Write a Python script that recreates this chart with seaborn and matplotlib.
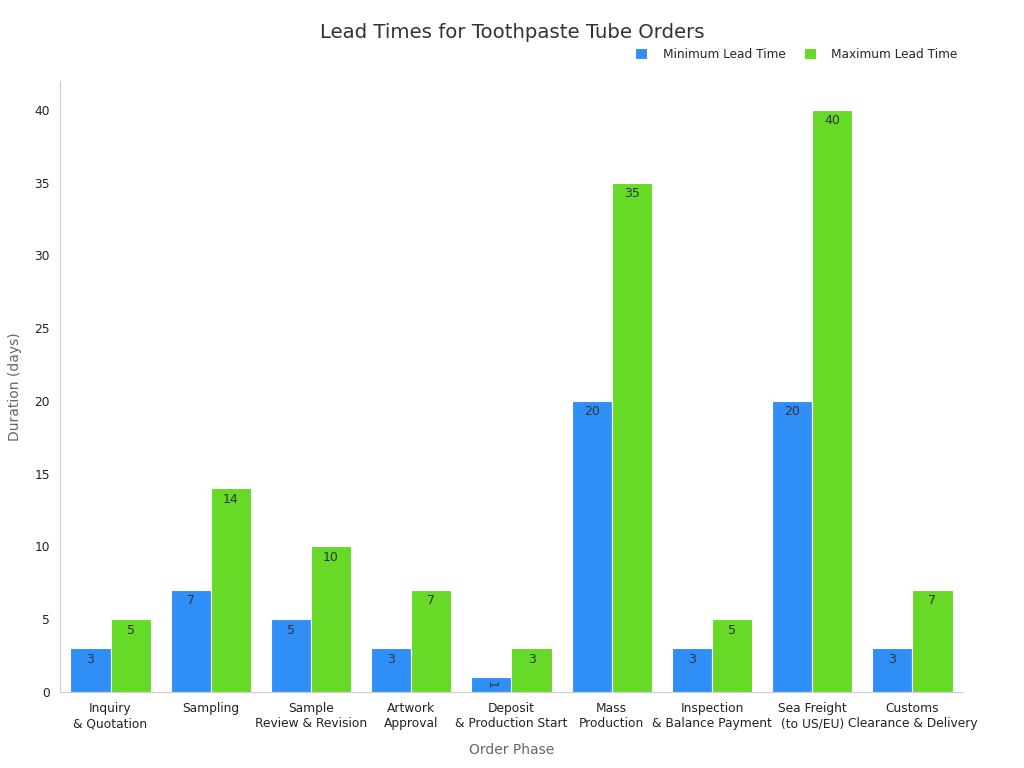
import numpy as np
import pandas as pd
import matplotlib.pyplot as plt
import seaborn as sns

# data
phases = ['Inquiry\n& Quotation', 'Sampling', 'Sample\nReview & Revision',
          'Artwork\nApproval', 'Deposit\n& Production Start', 'Mass\nProduction',
          'Inspection\n& Balance Payment', 'Sea Freight\n(to US/EU)',
          'Customs\nClearance & Delivery']
min_days = [3, 7, 5, 3, 1, 20, 3, 20, 3]
max_days = [5, 14, 10, 7, 3, 35, 5, 40, 7]
series = ['Minimum Lead Time', 'Maximum Lead Time']
colors = ['#2f8ff7', '#66da26']

df = pd.DataFrame({
    'phase': phases * 2,
    'days': min_days + max_days,
    'series': [series[0]] * len(phases) + [series[1]] * len(phases),
})

sns.set_style('white')
plt.rcParams['font.family'] = ['DejaVu Sans']

fig, ax = plt.subplots(figsize=(10.24, 7.68), dpi=100)
fig.subplots_adjust(left=0.059, right=0.94, top=0.895, bottom=0.099)

sns.barplot(data=df, x='phase', y='days', hue='series', palette=colors,
            width=0.8, edgecolor='white', linewidth=0.8, saturation=1, ax=ax)

# value labels inside the top of each bar
for cont in ax.containers:
    for bar in cont:
        h = bar.get_height()
        xc = bar.get_x() + bar.get_width() / 2
        if h < 2:
            ax.text(xc, h - 0.5, f'{int(h)}', ha='center', va='center',
                    fontsize=9, color='#333333', rotation=-90)
        else:
            ax.text(xc, h - 0.3, f'{int(h)}', ha='center', va='top',
                    fontsize=9, color='#333333')

ax.set_ylim(0, 42)
ax.set_xlim(-0.5, 8.5)
ax.set_yticks(range(0, 41, 5))
ax.tick_params(axis='both', labelsize=8.8, colors='#222222', length=4)
ax.tick_params(axis='both', color='#888888')
ax.set_xlabel('Order Phase', fontsize=10, color='#666666', labelpad=9)
ax.set_ylabel('Duration (days)', fontsize=10, color='#666666', labelpad=9)

for s in ['top', 'right']:
    ax.spines[s].set_visible(False)
for s in ['left', 'bottom']:
    ax.spines[s].set_color('#cccccc')
    ax.spines[s].set_linewidth(0.8)

ax.legend(loc='lower right', bbox_to_anchor=(1.0, 1.025), ncol=2, frameon=False,
          fontsize=8.7, handlelength=1.0, handleheight=1.0, columnspacing=1.5,
          handletextpad=1.3, borderaxespad=0.0)

fig.suptitle('Lead Times for Toothpaste Tube Orders', fontsize=14.2,
             color='#333333', x=0.5, y=0.97)

fig.savefig('out.png', dpi=100)
